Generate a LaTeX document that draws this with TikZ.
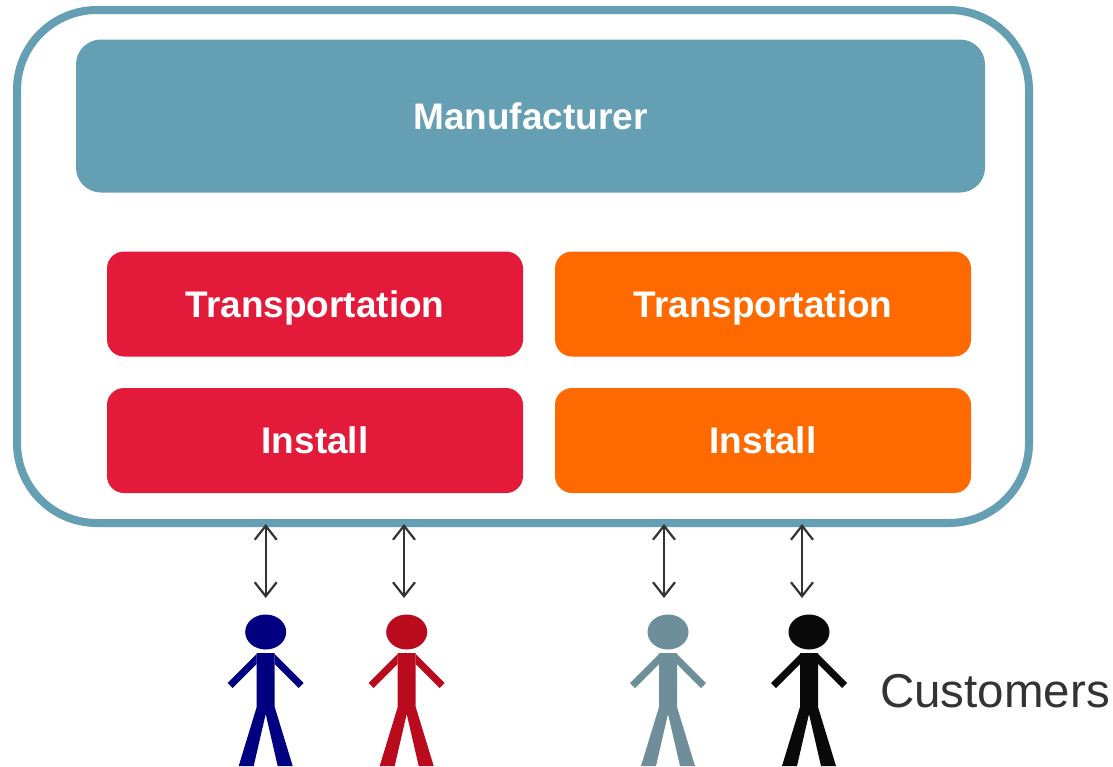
\documentclass[tikz,border=0pt]{standalone}
\usepackage{fontspec}
\setmainfont{Liberation Sans}
\usetikzlibrary{arrows.meta}
\definecolor{teal1}{HTML}{659FB3}
\definecolor{red1}{HTML}{E31A3A}
\definecolor{orange1}{HTML}{FF6A00}
\definecolor{navy1}{HTML}{000080}
\definecolor{red2}{HTML}{BA0A1E}
\definecolor{grey1}{HTML}{6E8F99}
\definecolor{black1}{HTML}{0A0A0A}
\definecolor{arrowc}{HTML}{333333}
\newcommand\drawperson[3]{%
  \begin{scope}[shift={(#1,#2)}]
    \fill[#3] (0,0) ellipse [x radius=20.5, y radius=17.5];
    \fill[#3] (-9,21) -- (9,21) -- (9,75) -- (27,134) -- (12,134) -- (0,82)
      -- (-12,134) -- (-27,134) -- (-9,75) -- cycle;
    \fill[#3] (-9,22) -- (-38,51) -- (-33,56) -- (-9,32) -- cycle;
    \fill[#3] (9,22) -- (38,51) -- (33,56) -- (9,32) -- cycle;
  \end{scope}}
\begin{document}
\begin{tikzpicture}[x=1pt,y=-1pt,
  label text/.style={text=white, font=\fontsize{37}{44}\selectfont\bfseries,
    text height=26.5pt, text depth=0pt, inner sep=0pt},
  box/.style={label text, rounded corners=17pt, minimum width=416pt, minimum height=105pt},
  link/.style={draw=arrowc, line width=2.2pt,
    {Straight Barb[length=14pt,width=22pt]}-{Straight Barb[length=14pt,width=22pt]}}]
\useasboundingbox[fill=white] (0,0) rectangle (1113,766);
\node[draw=teal1, line width=8pt, rounded corners=80pt, minimum width=1012pt,
  minimum height=513pt, inner sep=0pt] (frame) at (523,266.5) {};
\node[label text, fill=teal1, rounded corners=25pt, minimum width=909pt,
  minimum height=153pt] (manu) at (530.5,116) {Manufacturer};
\node[box, fill=red1] (t1) at (315,304) {Transportation};
\node[box, fill=red1] (i1) at (315,440.5) {Install};
\node[box, fill=orange1] (t2) at (763,304) {Transportation};
\node[box, fill=orange1] (i2) at (763,440.5) {Install};
\coordinate (a1t) at (265.7,524); \coordinate (a1b) at (265.7,598);
\coordinate (a2t) at (404,524); \coordinate (a2b) at (404,598);
\coordinate (a3t) at (664,524); \coordinate (a3b) at (664,598);
\coordinate (a4t) at (802,524); \coordinate (a4b) at (802,598);
\draw[link] (a1t) -- (a1b);
\draw[link] (a2t) -- (a2b);
\draw[link] (a3t) -- (a3b);
\draw[link] (a4t) -- (a4b);
\drawperson{265.7}{632}{navy1}
\drawperson{406.7}{632}{red2}
\drawperson{668}{632}{grey1}
\drawperson{809}{632}{black1}
\node[anchor=base west, inner sep=0pt, text=arrowc, font=\fontsize{47.5}{56}\selectfont]
  (cust) at (880,707) {Customers};
\end{tikzpicture}
\end{document}
